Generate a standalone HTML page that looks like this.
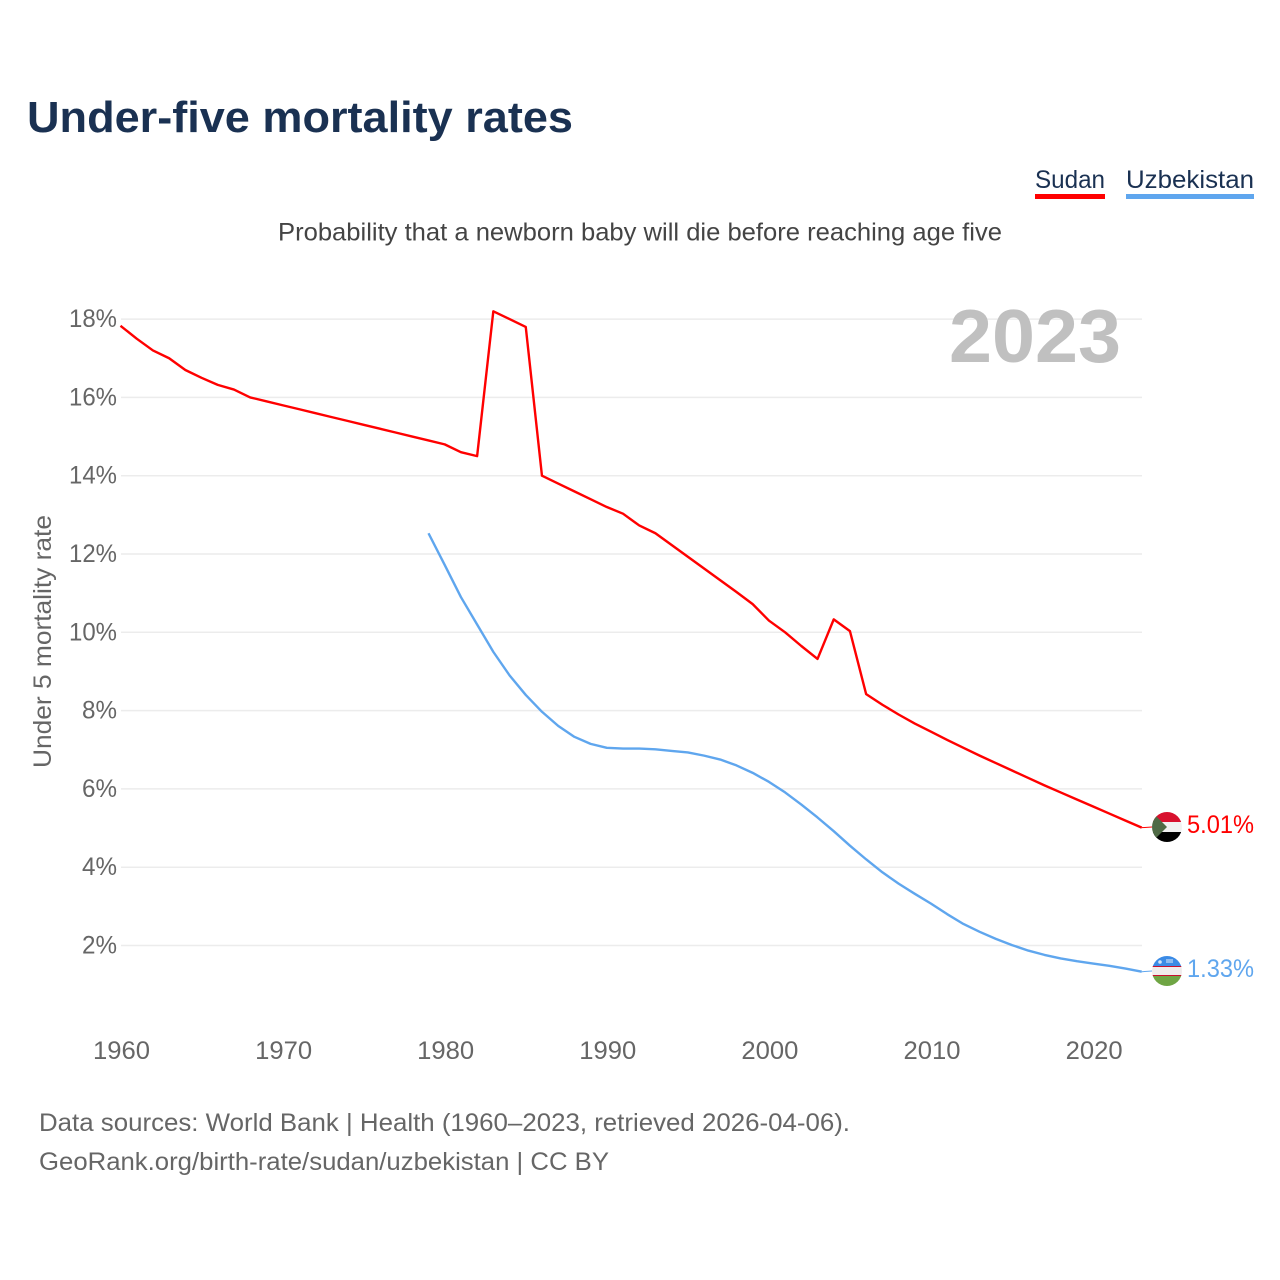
<!DOCTYPE html>
<html lang="en">
<head>
<meta charset="utf-8">
<title>Under-five mortality rates</title>
<style>
html,body{margin:0;padding:0;background:#fff;width:1280px;height:1280px;overflow:hidden}
svg{display:block}
text{font-family:"Liberation Sans",sans-serif}
</style>
</head>
<body>
<svg id="chart" xmlns="http://www.w3.org/2000/svg" width="1280" height="1280" viewBox="0 0 1280 1280">
  <defs>
    <clipPath id="clip-sudan"><circle cx="1167" cy="827" r="15"/></clipPath>
    <clipPath id="clip-uzbek"><circle cx="1167" cy="971" r="15"/></clipPath>
  </defs>
  <rect width="1280" height="1280" fill="#fff"/>
  <text x="27" y="132" font-size="44" font-weight="700" fill="#1a3152" textLength="546" lengthAdjust="spacingAndGlyphs">Under-five mortality rates</text>
  <text x="1035" y="188" font-size="25" fill="#1a3152" textLength="70" lengthAdjust="spacingAndGlyphs">Sudan</text>
  <rect x="1035" y="194" width="70" height="5" fill="#ff0000"/>
  <text x="1126" y="188" font-size="25" fill="#1a3152" textLength="128" lengthAdjust="spacingAndGlyphs">Uzbekistan</text>
  <rect x="1126" y="194" width="128" height="5" fill="#5fa6ee"/>
  <text x="278" y="240.5" font-size="25" fill="#444" textLength="724" lengthAdjust="spacingAndGlyphs">Probability that a newborn baby will die before reaching age five</text>
  <text transform="translate(51 768) rotate(-90)" font-size="25" fill="#666" textLength="253" lengthAdjust="spacingAndGlyphs">Under 5 mortality rate</text>
  <g id="grid"></g>
  <g id="yticks"></g>
  <g id="xticks"></g>
  <text x="949" y="362" font-size="75" font-weight="700" fill="#c0c0c0" textLength="172" lengthAdjust="spacingAndGlyphs">2023</text>
  <g id="series"></g>
  <g clip-path="url(#clip-sudan)">
    <rect x="1152" y="812" width="30" height="10" fill="#d8112e"/>
    <rect x="1152" y="822" width="30" height="10" fill="#f1f1f1"/>
    <rect x="1152" y="832" width="30" height="10" fill="#000"/>
    <polygon points="1152,812 1167,827 1152,842" fill="#4f6a45"/>
  </g>
  <g clip-path="url(#clip-uzbek)">
    <rect x="1152" y="956" width="30" height="10.5" fill="#3b8be6"/>
    <rect x="1152" y="966.5" width="30" height="9.5" fill="#f0ecec"/>
    <rect x="1152" y="976" width="30" height="10" fill="#6fa544"/>
    <rect x="1152" y="966" width="30" height="1" fill="#c8102e"/>
    <rect x="1152" y="975" width="30" height="1" fill="#c8102e"/>
    <circle cx="1160" cy="962" r="1.8" fill="#d5e4f8"/>
    <rect x="1166" y="959" width="7" height="4" fill="#8fbcf0"/>
  </g>
  <text x="1187" y="833" font-size="25" fill="#ff0000" textLength="67" lengthAdjust="spacingAndGlyphs">5.01%</text>
  <text x="1187" y="977" font-size="25" fill="#5fa6ee" textLength="67" lengthAdjust="spacingAndGlyphs">1.33%</text>
  <text x="39" y="1131" font-size="25" fill="#666" textLength="811" lengthAdjust="spacingAndGlyphs">Data sources: World Bank | Health (1960–2023, retrieved 2026-04-06).</text>
  <text x="39" y="1170" font-size="25" fill="#666" textLength="570" lengthAdjust="spacingAndGlyphs">GeoRank.org/birth-rate/sudan/uzbekistan | CC BY</text>
</svg>
<script>
const yTickValues = [2, 4, 6, 8, 10, 12, 14, 16, 18];
const xTickYears = [1960, 1970, 1980, 1990, 2000, 2010, 2020];
const sudanStartYear = 1960;
const sudanValues = [17.83, 17.5, 17.2, 17.0, 16.7, 16.5, 16.32, 16.2, 16.0, 15.9, 15.8, 15.7, 15.6, 15.5, 15.4, 15.3, 15.2, 15.1, 15.0, 14.9, 14.8, 14.6, 14.5, 18.2, 18.0, 17.8, 14.0, 13.8, 13.6, 13.4, 13.2, 13.03, 12.73, 12.53, 12.23, 11.93, 11.63, 11.33, 11.03, 10.72, 10.3, 10.0, 9.65, 9.32, 10.33, 10.03, 8.42, 8.15, 7.9, 7.67, 7.46, 7.25, 7.05, 6.85, 6.66, 6.47, 6.28, 6.09, 5.91, 5.73, 5.55, 5.37, 5.19, 5.01];
const uzbekistanStartYear = 1979;
const uzbekistanValues = [12.53, 11.72, 10.9, 10.2, 9.5, 8.9, 8.4, 7.97, 7.61, 7.33, 7.15, 7.05, 7.03, 7.03, 7.01, 6.97, 6.93, 6.85, 6.75, 6.6, 6.41, 6.18, 5.91, 5.6, 5.27, 4.92, 4.55, 4.2, 3.87, 3.58, 3.32, 3.07, 2.8, 2.55, 2.35, 2.17, 2.01, 1.87, 1.76, 1.67, 1.6, 1.54, 1.48, 1.41, 1.33];
const NS = 'http://www.w3.org/2000/svg';
const xScale = function (year) { return 120.5 + (year - 1960) * 16.21; };
const yScale = function (value) { return 1023.8 - value * 39.15; };
const grid = document.getElementById('grid');
const yticks = document.getElementById('yticks');
const xticks = document.getElementById('xticks');
const series = document.getElementById('series');
yTickValues.forEach(function (v) {
  const line = document.createElementNS(NS, 'line');
  
  
  line.setAttribute('x1', 121);
  line.setAttribute('x2', 1142);
  line.setAttribute('y1', yScale(v));
  line.setAttribute('y2', yScale(v));
  line.setAttribute('stroke', '#ececec');
  line.setAttribute('stroke-width', '1.5');
  grid.appendChild(line);
  const label = document.createElementNS(NS, 'text');
  
  
  label.setAttribute('x', 117);
  label.setAttribute('y', yScale(v) + 8);
  label.setAttribute('text-anchor', 'end');
  label.setAttribute('font-size', '25');
  label.setAttribute('fill', '#666');
  label.setAttribute('textLength', v >= 10 ? 48 : 35);
  label.setAttribute('lengthAdjust', 'spacingAndGlyphs');
  label.textContent = v + '%';
  yticks.appendChild(label);
});
xTickYears.forEach(function (year) {
  const label = document.createElementNS(NS, 'text');
  
  
  label.setAttribute('x', xScale(year) + 1);
  label.setAttribute('y', 1059);
  label.setAttribute('text-anchor', 'middle');
  label.setAttribute('font-size', '25');
  label.setAttribute('fill', '#666');
  label.setAttribute('textLength', 57);
  label.setAttribute('lengthAdjust', 'spacingAndGlyphs');
  label.textContent = year;
  xticks.appendChild(label);
});
function drawSeries(values, startYear, color, name, flagCy) {
  const pts = values.map(function (v, i) { return xScale(startYear + i).toFixed(2) + ',' + yScale(v).toFixed(2); });
  const path = document.createElementNS(NS, 'polyline');
  
  
  path.setAttribute('points', pts.join(' '));
  path.setAttribute('fill', 'none');
  path.setAttribute('stroke', color);
  path.setAttribute('stroke-width', '2.4');
  path.setAttribute('stroke-linejoin', 'round');
  series.appendChild(path);
  const last = values[values.length - 1];
  const conn = document.createElementNS(NS, 'line');
  
  
  conn.setAttribute('x1', xScale(startYear + values.length - 1));
  conn.setAttribute('y1', yScale(last));
  conn.setAttribute('x2', 1152);
  conn.setAttribute('y2', flagCy);
  conn.setAttribute('stroke', color);
  conn.setAttribute('stroke-width', '1');
  series.appendChild(conn);
}
drawSeries(sudanValues, sudanStartYear, '#ff0000', 'sudan-line', 827);
drawSeries(uzbekistanValues, uzbekistanStartYear, '#5fa6ee', 'uzbekistan-line', 971);
</script>
</body>
</html>
